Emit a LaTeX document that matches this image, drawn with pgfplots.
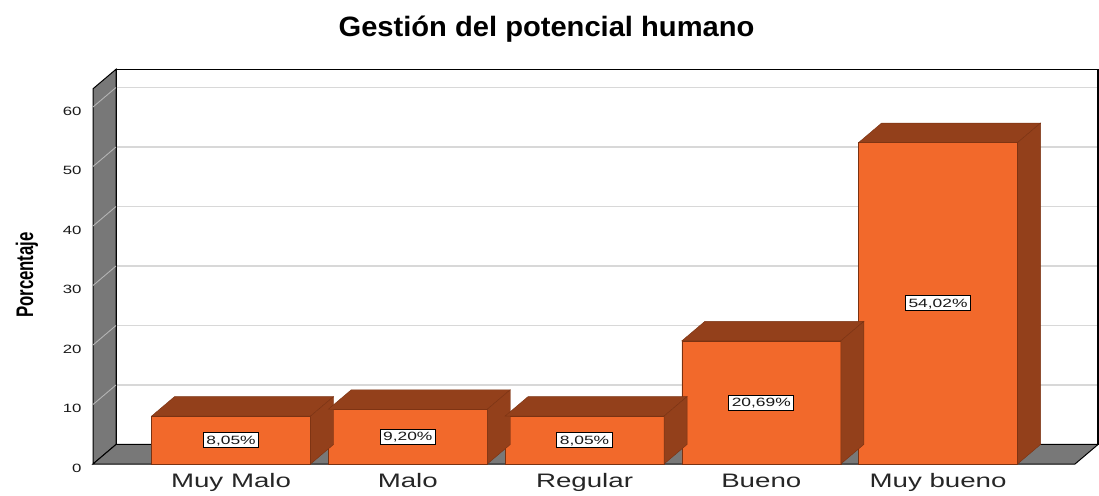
\documentclass[border=0pt]{standalone}
\usepackage{fontspec}
\setmainfont{Liberation Sans}
\newfontfamily\titlefont[FakeStretch=1.04]{Liberation Sans}
\newfontfamily\widefont[FakeStretch=1.42]{Liberation Sans}
\newfontfamily\labfont[FakeStretch=1.45]{Liberation Sans}
\newfontfamily\tickfont[FakeStretch=1.4]{Liberation Sans}
\newfontfamily\ylabfont[FakeStretch=0.7]{Liberation Sans}
\usepackage{pgfplots}
\usepackage{pgfplotstable}
\pgfplotsset{compat=1.18}

\definecolor{orangec}{HTML}{F2692B}
\definecolor{brownc}{HTML}{93401B}
\definecolor{edgec}{HTML}{7A3212}
\definecolor{wallc}{HTML}{787878}
\definecolor{gridc}{HTML}{D8D8D8}
\definecolor{wallgrid}{HTML}{B4B4B4}

\pgfdeclareplotmark{blank}{}

% porcentajes por categoria
\pgfplotstableread{
x y
0 8.05
1 9.20
2 8.05
3 20.69
4 54.02
}\datatable

\begin{document}
\begin{tikzpicture}
% pared del fondo con la rejilla
\begin{axis}[
    at={(23pt,19.5pt)}, anchor=south west,
    x=176.75pt, y=5.95pt,
    xmin=-0.781, xmax=4.775, ymin=0, ymax=63.06,
    xtick=\empty, ytick={10,20,...,60}, yticklabels={},
    ymajorgrids, grid style={color=gridc, line width=1.3pt},
    major tick length=0pt,
    axis line style={black, line width=1.2pt},
  ]
\end{axis}
% pared izquierda y suelo
\fill[wallc, draw=black, line width=1pt] (0pt,0pt) -- (0pt,375.2pt) -- (23pt,394.7pt) -- (23pt,19.5pt) -- cycle;
\foreach \v in {10,20,...,60}
  \draw[wallgrid, line width=0.9pt] (0pt,{\v*5.95pt}) -- ++(23pt,19.5pt);
\fill[wallc, draw=black, line width=1pt] (0pt,0pt) -- (982pt,0pt) -- (1005pt,19.5pt) -- (23pt,19.5pt) -- cycle;

\begin{axis}[
    at={(0pt,0pt)}, anchor=south west,
    x=176.75pt, y=5.95pt,
    xmin=-0.781, xmax=4.775, ymin=0, ymax=63.06,
    clip=false,
    axis line style={draw=none},
    major tick length=0pt,
    tick style={draw=none},
    xtick={0,1,2,3,4},
    xticklabels={Muy Malo,Malo,Regular,Bueno,Muy bueno},
    xticklabel style={font=\widefont\fontsize{19.5}{22}\selectfont, text=black!85, anchor=base, yshift=-23.3pt},
    ytick={0,10,...,60},
    /pgf/number format/assume math mode=true,
    yticklabel style={font=\tickfont\fontsize{12}{14}\selectfont, text=black!90, anchor=east, inner sep=0pt, xshift=-11.3pt, yshift=-4pt},
    title={Gestión del potencial humano},
    title style={font=\titlefont\bfseries\fontsize{28}{32}\selectfont, anchor=base, at={(axis description cs:0.4618,1)}, yshift=46.5pt},
    ylabel={Porcentaje},
    ylabel style={font=\ylabfont\bfseries\fontsize{24}{28}\selectfont, at={(axis description cs:-0.0672,0.5037)}, anchor=center},
  ]
  % caras superior y lateral
  \addplot[scatter, only marks, mark=blank, point meta=y,
    visualization depends on={rawy \as \hval},
    scatter/@pre marker code/.code={%
      \pgfmathsetmacro\ha{-\hval*5.95}%
      \pgfmathsetmacro\hb{19.5-\hval*5.95}%
      \filldraw[fill=brownc, draw=edgec, line width=0.4pt] (-79.5pt,0pt) -- (79.5pt,0pt) -- (102.5pt,19.5pt) -- (-56.5pt,19.5pt) -- cycle;
      \filldraw[fill=brownc, draw=edgec, line width=0.4pt] (79.5pt,0pt) -- (102.5pt,19.5pt) -- (102.5pt,\hb pt) -- (79.5pt,\ha pt) -- cycle;
    },
    scatter/@post marker code/.code={}]
    table[x=x, y=y]{\datatable};
  % cara frontal
  \addplot[ybar, bar width=159pt, bar shift=0pt, fill=orangec, draw=edgec, line width=0.5pt]
    table[x=x, y=y]{\datatable};
  % etiquetas
  \addplot[only marks, mark=blank, point meta=\thisrow{y},
    nodes near coords={\pgfmathprintnumber[fixed,fixed zerofill,precision=2,use comma]{\pgfplotspointmeta}\%},
    every node near coord/.append style={anchor=center, fill=white, draw=black, line width=0.8pt,
      font=\labfont\fontsize{12}{13}\selectfont, text=black!90, text height=8.6pt, text depth=0pt,
      inner xsep=3pt, inner ysep=3.2pt}]
    table[x=x, y expr=\thisrow{y}/2]{\datatable};
\end{axis}
\pgfresetboundingbox
\path (-93pt,-31pt) rectangle (1006pt,464pt);
\end{tikzpicture}
\end{document}
